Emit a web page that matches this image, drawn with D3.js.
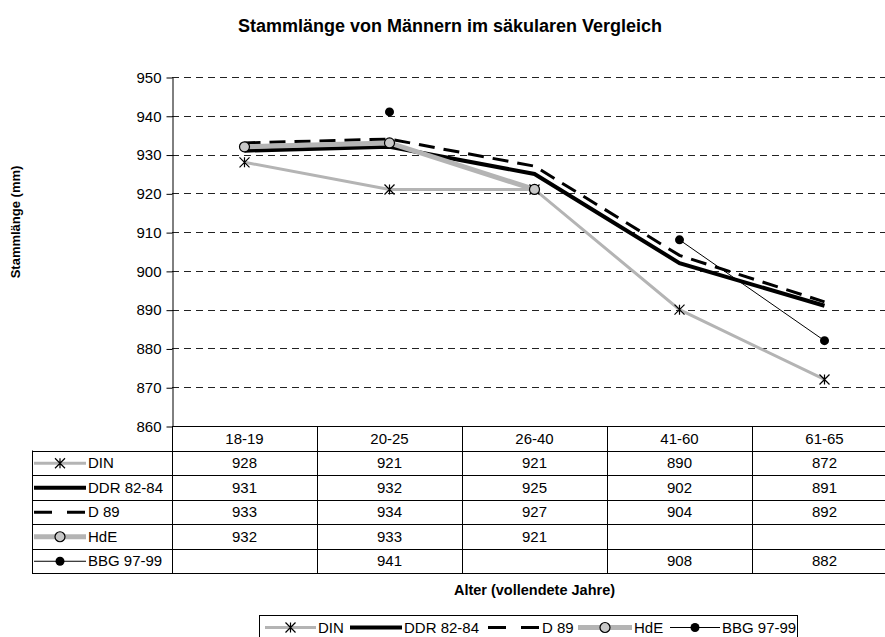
<!DOCTYPE html>
<html>
<head>
<meta charset="utf-8">
<script src="https://cdn.jsdelivr.net/npm/d3@7"></script>
<style>
  body { margin: 0; background: #fff; }
  svg { font-family: "Liberation Sans", Arial, sans-serif; }
</style>
</head>
<body>
<div id="chart"></div>
<script>
// data
const categories = ["18-19", "20-25", "26-40", "41-60", "61-65"];
const seriesNames = ["DIN", "DDR 82-84", "D 89", "HdE", "BBG 97-99"];
const din = [928, 921, 921, 890, 872];
const ddr = [931, 932, 925, 902, 891];
const d89 = [933, 934, 927, 904, 892];
const hde = [932, 933, 921, null, null];
const bbg = [null, 941, null, 908, 882];
const yTicks = [860, 870, 880, 890, 900, 910, 920, 930, 940, 950];

const WIDTH = 885, HEIGHT = 637;
const plot = {left: 172, right: 897, top: 77, bottom: 426};
const ROW_H = 24.5;
const LEGEND_COL_X = 32;
const FONT = 15;

const series = [
    {name: seriesNames[0], values: din, color: "#b4b4b4", width: 3, dash: null, marker: "star"},
    {name: seriesNames[1], values: ddr, color: "#000", width: 4, dash: null, marker: null},
    {name: seriesNames[2], values: d89, color: "#000", width: 3, dash: "16,9", marker: null},
    {name: seriesNames[3], values: hde, color: "#b4b4b4", width: 5, dash: null, marker: "circle"},
    {name: seriesNames[4], values: bbg, color: "#000", width: 1, dash: null, marker: "dot"}
];

let svg = d3.select("#chart")
    .append("svg")
    .attr("width", WIDTH)
    .attr("height", HEIGHT);

let x = d3.scaleBand()
    .domain(categories)
    .range([plot.left, plot.right]);
let y = d3.scaleLinear()
    .domain([860, 950])
    .range([plot.bottom, plot.top]);

// title
svg.append("text")
    .attr("x", 450)
    .attr("y", 32)
    .style("text-anchor", "middle")
    .style("font-weight", "bold")
    .style("font-size", "18px")
    .text("Stammlänge von Männern im säkularen Vergleich");

// dashed grid
svg.append("g").selectAll("line")
    .data(yTicks.filter(d => d > 860))
    .enter()
    .append("line")
    .attr("x1", plot.left)
    .attr("x2", plot.right)
    .attr("y1", d => Math.round(y(d)) + 0.5)
    .attr("y2", d => Math.round(y(d)) + 0.5)
    .attr("stroke", "#222")
    .attr("stroke-dasharray", "7,5");

// y axis
let yAxis = svg.append("g")
    .attr("transform", `translate(${plot.left + 0.5}, 0.5)`)
    .call(d3.axisLeft(y).tickValues(yTicks).tickSize(6).tickPadding(5).tickSizeOuter(0));
yAxis.select(".domain").attr("stroke", "#000");
yAxis.selectAll("text")
    .style("font-size", FONT + "px")
    .style("font-family", "'Liberation Sans', Arial, sans-serif")
    .attr("fill", "#000");
svg.append("line")
    .attr("x1", plot.left + 0.5).attr("x2", plot.left + 0.5)
    .attr("y1", plot.bottom).attr("y2", plot.bottom + ROW_H * 6)
    .attr("stroke", "#000");

svg.append("text")
    .attr("transform", `translate(20, 222) rotate(-90)`)
    .style("text-anchor", "middle")
    .style("font-weight", "bold")
    .style("font-size", "13px")
    .text("Stammlänge (mm)");

// data table
let table = svg.append("g");
let tableBottom = plot.bottom + ROW_H * (series.length + 1);
for (let i = 0; i <= series.length + 1; i++) {
    let yy = Math.round(plot.bottom + i * ROW_H) + 0.5;
    table.append("line")
        .attr("x1", i === 0 ? plot.left : LEGEND_COL_X)
        .attr("x2", plot.right)
        .attr("y1", yy).attr("y2", yy)
        .attr("stroke", "#000");
}
table.append("line")
    .attr("x1", LEGEND_COL_X + 0.5).attr("x2", LEGEND_COL_X + 0.5)
    .attr("y1", plot.bottom + ROW_H).attr("y2", tableBottom)
    .attr("stroke", "#000");
categories.forEach(function(c) {
    let xx = Math.round(x(c) + x.bandwidth()) + 0.5;
    table.append("line")
        .attr("x1", xx).attr("x2", xx)
        .attr("y1", plot.bottom).attr("y2", tableBottom)
        .attr("stroke", "#000");
    table.append("text")
        .attr("x", x(c) + x.bandwidth() / 2)
        .attr("y", plot.bottom + ROW_H / 2 + 5.5)
        .style("text-anchor", "middle")
        .style("font-size", FONT + "px")
        .text(c);
});
series.forEach(function(s, i) {
    let rowY = plot.bottom + (i + 1) * ROW_H;
    s.values.forEach(function(v, j) {
        if (v === null) return;
        table.append("text")
            .attr("x", x(categories[j]) + x.bandwidth() / 2)
            .attr("y", rowY + ROW_H / 2 + 5.5)
            .style("text-anchor", "middle")
            .style("font-size", FONT + "px")
            .text(v);
    });
    drawKey(table, s, 34, 86, rowY + ROW_H / 2 + 0.5);
    table.append("text")
        .attr("x", 88)
        .attr("y", rowY + ROW_H / 2 + 5.5)
        .style("font-size", FONT + "px")
        .text(s.name);
});

svg.append("text")
    .attr("x", (plot.left + plot.right) / 2)
    .attr("y", 595)
    .style("text-anchor", "middle")
    .style("font-weight", "bold")
    .style("font-size", "14.5px")
    .text("Alter (vollendete Jahre)");

// series lines
let cx = c => x(c) + x.bandwidth() / 2;
series.forEach(function(s) {
    let line = d3.line()
        .defined(d => d.v !== null)
        .x(d => cx(d.c))
        .y(d => y(d.v));
    let pts = s.values.map((v, j) => ({c: categories[j], v: v}));
    svg.append("path")
        .datum(pts)
        .attr("fill", "none")
        .attr("stroke", s.color)
        .attr("stroke-width", s.width)
        .attr("stroke-dasharray", s.dash)
        .attr("d", line);
});
series.forEach(function(s) {
    s.values.forEach(function(v, j) {
        if (v === null) return;
        drawMarker(svg, s.marker, cx(categories[j]), y(v));
    });
});

// bottom legend (runs off the bottom edge like the original)
let legend = svg.append("g");
legend.append("rect")
    .attr("x", 259.5).attr("y", 615.5)
    .attr("width", 538).attr("height", 30)
    .attr("fill", "#fff")
    .attr("stroke", "#000");
let legendX = [[265, 316], [350, 402], [488, 540], [578, 632], [670, 720]];
series.forEach(function(s, i) {
    drawKey(legend, s, legendX[i][0], legendX[i][1], 627.5);
    legend.append("text")
        .attr("x", legendX[i][1] + 2)
        .attr("y", 633)
        .style("font-size", FONT + "px")
        .text(s.name);
});

function drawKey(g, s, x1, x2, yy) {
    g.append("line")
        .attr("x1", x1).attr("x2", x2)
        .attr("y1", yy).attr("y2", yy)
        .attr("stroke", s.color)
        .attr("stroke-width", s.width)
        .attr("stroke-dasharray", s.dash ? "18,15" : null);
    drawMarker(g, s.marker, (x1 + x2) / 2, yy);
}

function drawMarker(g, kind, mx, my) {
    if (kind === "star") {
        let r = 5;
        g.append("path")
            .attr("d", `M${mx - r},${my - r}L${mx + r},${my + r}M${mx - r},${my + r}L${mx + r},${my - r}M${mx},${my - r}L${mx},${my + r}`)
            .attr("stroke", "#000")
            .attr("stroke-width", 1.2);
    } else if (kind === "circle") {
        g.append("circle")
            .attr("cx", mx).attr("cy", my).attr("r", 5)
            .attr("fill", "#c8c8c8")
            .attr("stroke", "#000")
            .attr("stroke-width", 1.2);
    } else if (kind === "dot") {
        g.append("circle")
            .attr("cx", mx).attr("cy", my).attr("r", 4.5)
            .attr("fill", "#000");
    }
}
</script>
</body>
</html>
